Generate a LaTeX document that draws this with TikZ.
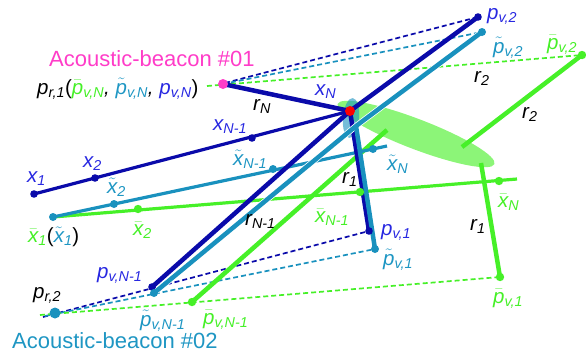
\documentclass[tikz,border=0pt]{standalone}
\usepackage{fontspec}
\setmainfont{Liberation Sans}
\usetikzlibrary{arrows.meta}
\definecolor{lblue}{RGB}{10,10,170}
\definecolor{tblue}{RGB}{40,40,225}
\definecolor{tealc}{RGB}{25,145,190}
\definecolor{ttext}{RGB}{30,150,195}
\definecolor{grn}{RGB}{70,240,40}
\definecolor{mag}{RGB}{255,60,200}
\definecolor{lgrn}{RGB}{140,245,120}
\newcommand\Sb[2]{#1\textsubscript{#2}}
\newcommand\Brr[1]{\ensuremath{\bar{\hbox{#1}}}}
\newcommand\Tld[1]{\ensuremath{\tilde{\hbox{#1}}}}
\tikzset{
  lbl/.style={inner sep=0pt, anchor=base west, font=\fontsize{20.5}{22}\selectfont\itshape},
  title/.style={inner sep=0pt, anchor=base west, font=\fontsize{22}{24}\selectfont},
  thk/.style={line width=4.5pt},
  xln/.style={line width=3.2pt},
  dsh/.style={line width=1.7pt, dash pattern=on 5pt off 3pt},
  dotb/.style={fill=lblue},
  dott/.style={fill=tealc},
  dotg/.style={fill=grn},
  tealwide/.style={preaction={draw=white, line width=6pt}}
}
\begin{document}
\begin{tikzpicture}[x=1pt,y=-1pt]
\useasboundingbox (0,0) rectangle (586,357);
% points
\coordinate (pr1) at (223,84);
\coordinate (xN) at (350,111);
\coordinate (pv2) at (478,17);
\coordinate (tpv2) at (482,32);
\coordinate (bpv2) at (582,55);
\coordinate (pv1) at (369,231);
\coordinate (tpv1) at (375,249);
\coordinate (bpv1) at (500,277);
\coordinate (pvN1) at (152,287);
\coordinate (tpvN1) at (154,293);
\coordinate (bpvN1) at (192,302);
\coordinate (pr2) at (55,313);
\coordinate (x1) at (34,194);
\coordinate (x2) at (95,178);
\coordinate (xN1) at (252,138);
\coordinate (tx1) at (53,217);
\coordinate (tx2) at (114,204);
\coordinate (txN1) at (273,169);
\coordinate (txN) at (373,149);
\coordinate (txe) at (387,146);
\coordinate (bx2) at (138,209);
\coordinate (bxN1) at (360,192);
\coordinate (bxN) at (499,181);
\coordinate (bxe) at (517,179);
\coordinate (tX) at (356,126);
\coordinate (gtop) at (387,130);
\coordinate (gc) at (462,147);
\coordinate (gr1) at (481,163);
\coordinate (db1) at (225,83);
\coordinate (dg1) at (207,86);
\coordinate (db2) at (43,317);
\coordinate (dt2) at (45,316);
\coordinate (dg2) at (40,315);
% dashed lines
\draw[dsh, lblue] (db1) -- (pv2);
\draw[dsh, tealc] (pr1) -- (tpv2);
\draw[dsh, grn] (dg1) -- (bpv2);
\draw[dsh, lblue] (db2) -- (pv1);
\draw[dsh, tealc] (dt2) -- (tpv1);
\draw[dsh, grn] (dg2) -- (bpv1);
% ellipses
\fill[lgrn, shift={(416,134)}, rotate=-21] (0,0) ellipse [x radius=84pt, y radius=15pt];
\fill[tealc, opacity=0.6, shift={(351,118)}, rotate=-5] (0,0) ellipse [x radius=8pt, y radius=20pt];
% green thick
\draw[thk, grn] (bpvN1) -- (gtop);
\draw[thk, grn] (gc) -- (bpv2);
\draw[thk, grn] (gr1) -- (bpv1);
% x lines
\draw[xln, grn] (tx1) -- (bxe);
\draw[xln, tealc] (tx1) -- (txe);
\draw[xln, lblue] (x1) -- (xN);
% blue thick
\draw[thk, lblue] (pvN1) -- (xN) -- (pv2);
\draw[thk, lblue] (pr1) -- (xN);
\draw[thk, lblue] (xN) -- (pv1);
% teal thick
\draw[thk, tealc, tealwide] (tpvN1) -- (tX) -- (tpv2);
\draw[thk, tealc] (tX) -- (tpv1);
% dots
\foreach \p in {x1,x2,xN1,pv2,pv1,pvN1} \fill[dotb] (\p) circle (3.8pt);
\foreach \p in {tx1,tx2,txN1,txN,tpv2,tpv1,tpvN1} \fill[dott] (\p) circle (4pt);
\foreach \p in {bx2,bxN1,bxN,bpv2,bpv1,bpvN1} \fill[dotg] (\p) circle (4.2pt);
\fill[tealc] (pr2) circle (5.5pt);
\fill[mag] (pr1) circle (5pt);
\fill[red] (xN) circle (5pt);
% labels
\node[title, text=mag] (t1) at (49,66) {Acoustic-beacon \#01};
\node[title, text=ttext] (t2) at (12,348) {Acoustic-beacon \#02};
\node[lbl] (lpr1) at (37,94) {\Sb{p}{r,1}\upshape(\itshape\textcolor{grn}{\Sb{\Brr{p}}{v,N}}, \textcolor{ttext}{\Sb{\Tld{p}}{v,N}}, \textcolor{tblue}{\Sb{p}{v,N}}\upshape)};
\node[lbl] (lrN) at (253,110) {\Sb{r}{N}};
\node[lbl, text=tblue] (lxN) at (315,95) {\Sb{x}{N}};
\node[lbl, text=tblue] (lxN1) at (213,130) {\Sb{x}{N-1}};
\node[lbl, text=tblue] (lx2) at (83,167) {\Sb{x}{2}};
\node[lbl, text=tblue] (lx1) at (27,182) {\Sb{x}{1}};
\node[lbl, text=ttext] (ltx2) at (107,193) {\Sb{\Tld{x}}{2}};
\node[lbl, text=ttext] (ltxN1) at (233,165) {\Sb{\Tld{x}}{N-1}};
\node[lbl, text=ttext] (ltxN) at (387,170) {\Sb{\Tld{x}}{N}};
\node[lbl] (lr1a) at (342,183) {\Sb{r}{1}};
\node[lbl, text=grn] (lbxN1) at (315,222) {\Sb{\Brr{x}}{N-1}};
\node[lbl] (lrN1) at (245,225) {\Sb{r}{N-1}};
\node[lbl, text=grn] (lbxN) at (498,207) {\Sb{\Brr{x}}{N}};
\node[lbl] (lr1b) at (470,230) {\Sb{r}{1}};
\node[lbl, text=tblue] (lpv1) at (381,235) {\Sb{p}{v,1}};
\node[lbl, text=ttext] (ltpv1) at (383,265) {\Sb{\Tld{p}}{v,1}};
\node[lbl, text=grn] (lbpv1) at (493,303) {\Sb{\Brr{p}}{v,1}};
\node[lbl] (lx1b) at (28,242) {\textcolor{grn}{\Sb{\Brr{x}}{1}}\upshape(\itshape\textcolor{ttext}{\Sb{\Tld{x}}{1}}\upshape)};
\node[lbl, text=grn] (lbx2) at (133,235) {\Sb{\Brr{x}}{2}};
\node[lbl, text=tblue] (lpvN1) at (97,278) {\Sb{p}{v,N-1}};
\node[lbl] (lpr2) at (33,298) {\Sb{p}{r,2}};
\node[lbl, text=ttext] (ltpvN1) at (140,326) {\Sb{\Tld{p}}{v,N-1}};
\node[lbl, text=grn] (lbpvN1) at (203,324) {\Sb{\Brr{p}}{v,N-1}};
\node[lbl, text=tblue] (lpv2) at (487,19) {\Sb{p}{v,2}};
\node[lbl, text=ttext] (ltpv2) at (493,53) {\Sb{\Tld{p}}{v,2}};
\node[lbl, text=grn] (lbpv2) at (547,49) {\Sb{\Brr{p}}{v,2}};
\node[lbl] (lr2a) at (474,82) {\Sb{r}{2}};
\node[lbl] (lr2b) at (522,118) {\Sb{r}{2}};
\end{tikzpicture}
\end{document}
